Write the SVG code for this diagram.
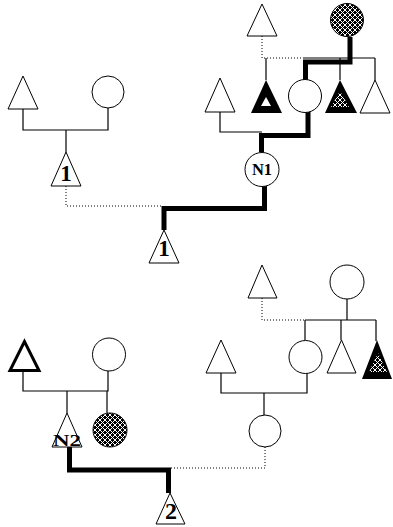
<svg xmlns="http://www.w3.org/2000/svg" width="393" height="527" viewBox="0 0 393 527">
  <defs>
    <!-- crisp pixel lattice: white diagonals crossing on black -->
    <pattern id="lattice" patternUnits="userSpaceOnUse" width="5" height="5">
      <rect width="5" height="5" fill="#000"/>
      <rect x="0" y="0" width="1" height="1" fill="#fff"/>
      <rect x="1" y="1" width="1" height="1" fill="#fff"/>
      <rect x="2" y="2" width="1" height="1" fill="#fff"/>
      <rect x="3" y="3" width="1" height="1" fill="#fff"/>
      <rect x="4" y="4" width="1" height="1" fill="#fff"/>
      <rect x="4" y="0" width="1" height="1" fill="#fff"/>
      <rect x="3" y="1" width="1" height="1" fill="#fff"/>
      <rect x="1" y="3" width="1" height="1" fill="#fff"/>
      <rect x="0" y="4" width="1" height="1" fill="#fff"/>
    </pattern>
  </defs>
  <style>
    .thin { fill: none; stroke: #000; stroke-width: 1.2; }
    .dot { fill: none; stroke: #000; stroke-width: 1; stroke-dasharray: 1 2; }
    .thick { fill: none; stroke: #000; stroke-width: 5; stroke-linejoin: miter; stroke-linecap: butt; }
    .male { fill: #fff; stroke: #000; stroke-width: 1; }
    .female { fill: #fff; stroke: #000; stroke-width: 1; }
    .hatched { fill: url(#lattice); stroke: #000; stroke-width: 1; }
    .lbl { font-family: "Liberation Serif", "DejaVu Serif", serif; font-weight: bold; text-anchor: middle; fill: #000; }
  </style>

  <!-- connectors -->
  <g id="connectors">
    <!-- pedigree 1, left family -->
    <polyline class="thin" points="23,109 23,130 108,130 108,108"/>
    <line class="thin" x1="66" y1="130" x2="66" y2="152"/>
    <polyline class="dot" points="66,186 66,206 162,206"/>
    <!-- pedigree 1, right family -->
    <polyline class="dot" points="262,36 262,58 303,58"/>
    <line class="thin" x1="266" y1="58" x2="266" y2="80"/>
    <line class="thin" x1="303" y1="58" x2="375" y2="58"/>
    <line class="thin" x1="340" y1="58" x2="340" y2="80"/>
    <line class="thin" x1="375" y1="58" x2="375" y2="80"/>
    <polyline class="thin" points="220,112 220,132 262,132"/>
    <!-- pedigree 1, bold descent path -->
    <polyline class="thick" points="350,37 350,62 305.5,62 305.5,80"/>
    <polyline class="thick" points="308,112 308,135.5 261.5,135.5 261.5,152"/>
    <polyline class="thick" points="264.5,186 264.5,208.5 164,208.5 164,230"/>

    <!-- pedigree 2, left family -->
    <polyline class="thin" points="23,372 23,391 108,391 108,371"/>
    <line class="thin" x1="67" y1="391" x2="67" y2="413"/>
    <line class="thin" x1="107" y1="391" x2="107" y2="413"/>
    <!-- pedigree 2, right family -->
    <polyline class="dot" points="262,298 262,320 305,320"/>
    <line class="thin" x1="305" y1="320" x2="376" y2="320"/>
    <line class="thin" x1="347" y1="299" x2="347" y2="320"/>
    <line class="thin" x1="305" y1="320" x2="305" y2="340"/>
    <line class="thin" x1="341" y1="320" x2="341" y2="340"/>
    <line class="thin" x1="376" y1="320" x2="376" y2="341"/>
    <polyline class="thin" points="221,373 221,393 307,393 307,373"/>
    <line class="thin" x1="264" y1="393" x2="264" y2="415"/>
    <polyline class="dot" points="265,447 265,468 170,468"/>
    <!-- pedigree 2, bold descent path -->
    <polyline class="thick" points="69.5,446 69.5,470 168.5,470 168.5,493"/>
  </g>

  <!-- pedigree 1 nodes -->
  <g id="p1-father"><polygon class="male" points="23,76 8,109 38,109"/></g>
  <g id="p1-mother"><circle class="female" cx="108" cy="92" r="16"/></g>
  <g id="p1-child1">
    <polygon class="male" points="66,152 51,186 81,186"/>
    <text class="lbl" x="66" y="181" font-size="23">1</text>
  </g>
  <g id="p1-grandfather"><polygon class="male" points="262,4 247,36 277,36"/></g>
  <g id="p1-grandmother"><circle class="hatched" cx="347" cy="20" r="16.5"/></g>
  <g id="p1-uncle">
    <polygon fill="#000" points="266,80 251,113 282,113"/>
    <polygon fill="#fff" points="266,97 261,106 271,106"/>
  </g>
  <g id="p1-mother2"><circle class="female" cx="305" cy="96" r="16.5"/></g>
  <g id="p1-uncle2">
    <polygon fill="#000" points="340,80 325,113 357,113"/>
    <polygon fill="url(#lattice)" points="340,91 331,107 349,107"/>
  </g>
  <g id="p1-uncle3"><polygon class="male" points="375,80 360,113 390,113"/></g>
  <g id="p1-father2"><polygon class="male" points="220,78 205,112 235,112"/></g>
  <g id="p1-n1">
    <circle class="female" cx="262" cy="169.5" r="17"/>
    <text class="lbl" x="262" y="175" font-size="16.5">N1</text>
  </g>
  <g id="p1-proband">
    <polygon class="male" points="164,230 149,263 179,263"/>
    <text class="lbl" x="164" y="256" font-size="23">1</text>
  </g>

  <!-- pedigree 2 nodes -->
  <g id="p2-father"><polygon fill="#fff" stroke="#000" stroke-width="3" points="24.5,341.5 10,370.5 39,370.5"/></g>
  <g id="p2-mother"><circle class="female" cx="109" cy="354.5" r="16.5"/></g>
  <g id="p2-n2">
    <polygon class="male" points="67,413 52,447 82,447"/>
    <text class="lbl" x="67" y="446" font-size="17" textLength="28" lengthAdjust="spacingAndGlyphs">N2</text>
  </g>
  <g id="p2-sister"><circle class="hatched" cx="110" cy="430" r="17"/></g>
  <g id="p2-grandfather"><polygon class="male" points="262,265 248,298 277,298"/></g>
  <g id="p2-grandmother"><circle class="female" cx="347" cy="282" r="17"/></g>
  <g id="p2-mother2"><circle class="female" cx="305.5" cy="357" r="16.5"/></g>
  <g id="p2-uncle"><polygon class="male" points="341.5,340 327,373 356,373"/></g>
  <g id="p2-uncle2">
    <polygon fill="#000" points="377,340 362,379 392,379"/>
    <polygon fill="url(#lattice)" points="378,353 369,372 387,372"/>
  </g>
  <g id="p2-father2"><polygon class="male" points="221,340 206,373 236,373"/></g>
  <g id="p2-parent"><circle class="female" cx="265" cy="431" r="16"/></g>
  <g id="p2-proband">
    <polygon class="male" points="170,493 156,524 185,524"/>
    <text class="lbl" x="171" y="519" font-size="24">2</text>
  </g>
</svg>
